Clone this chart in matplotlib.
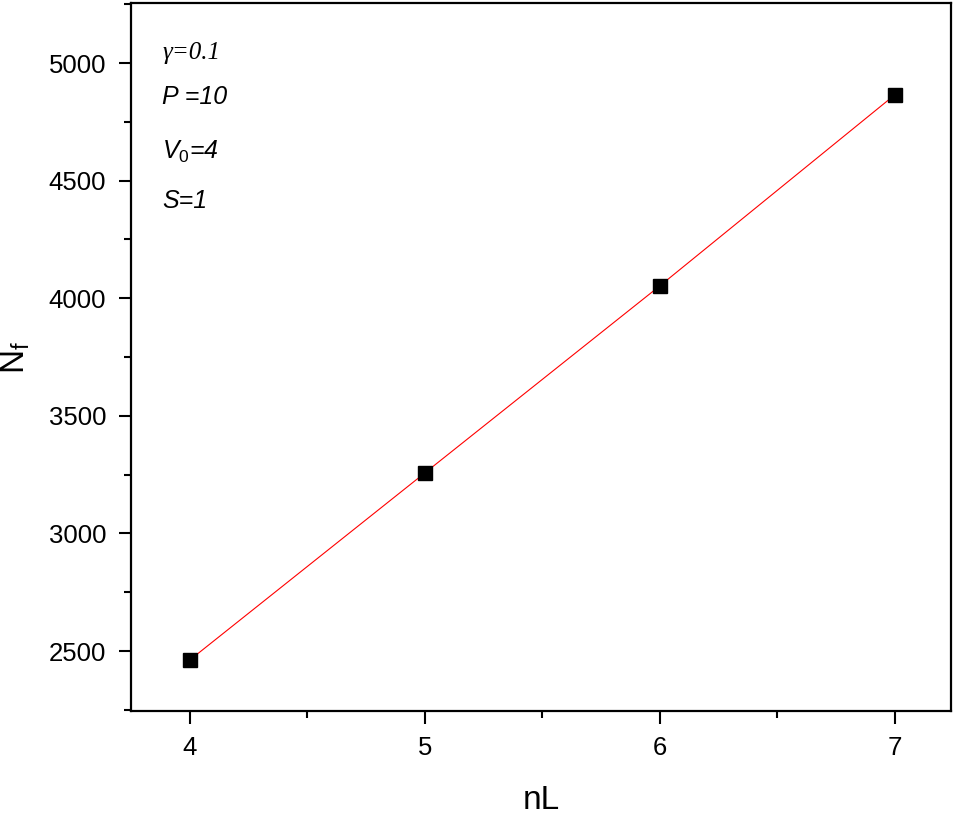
import matplotlib
matplotlib.use("Agg")
import matplotlib.pyplot as plt
from matplotlib.ticker import MultipleLocator

nL = [4, 5, 6, 7]
Nf = [2462, 3257, 4052, 4864]
x_ticks = [4, 5, 6, 7]
y_ticks = [2500, 3000, 3500, 4000, 4500, 5000]

plt.rcParams['font.family'] = ['Liberation Sans', 'DejaVu Sans']
plt.rcParams['mathtext.fontset'] = 'custom'
plt.rcParams['mathtext.rm'] = 'Liberation Sans'
plt.rcParams['mathtext.it'] = 'Liberation Sans:italic'

fig = plt.figure(figsize=(9.57, 8.17), dpi=100)
ax = fig.add_axes([0.137, 0.1297, 0.8567, 0.8666])

ax.plot(nL, Nf, color='red', lw=0.8, zorder=2)
ax.plot(nL, Nf, ls='none', marker='s', color='black', markersize=10, zorder=3)

ax.set_xlim(3.75, 7.24)
ax.set_ylim(2245, 5255)
ax.set_xticks(x_ticks)
ax.set_yticks(y_ticks)
ax.xaxis.set_minor_locator(MultipleLocator(0.5))
ax.yaxis.set_minor_locator(MultipleLocator(250))

for s in ax.spines.values():
    s.set_linewidth(1.6)
ax.tick_params(which='major', direction='out', length=9, width=1.5, labelsize=18.5, pad=9)
ax.tick_params(which='minor', direction='out', length=5, width=1.5)
ax.tick_params(top=False, right=False)

ax.set_xlabel('nL', fontsize=24, labelpad=18)
ax.set_ylabel(r'N$_\mathrm{f}$', fontsize=24, labelpad=12)

tx = 0.038
ax.text(tx, 0.93, 'γ=0.1', transform=ax.transAxes, fontsize=18, style='italic',
        family=['Liberation Serif', 'DejaVu Serif'], va='center')
ax.text(tx, 0.867, 'P =10', transform=ax.transAxes, fontsize=18, style='italic', va='center')
ax.text(tx, 0.79, r'$V_{\mathit{0}}$=4', transform=ax.transAxes, fontsize=18, style='italic', va='center')
ax.text(tx, 0.72, 'S=1', transform=ax.transAxes, fontsize=18, style='italic', va='center')

fig.savefig('out.png', dpi=100)
